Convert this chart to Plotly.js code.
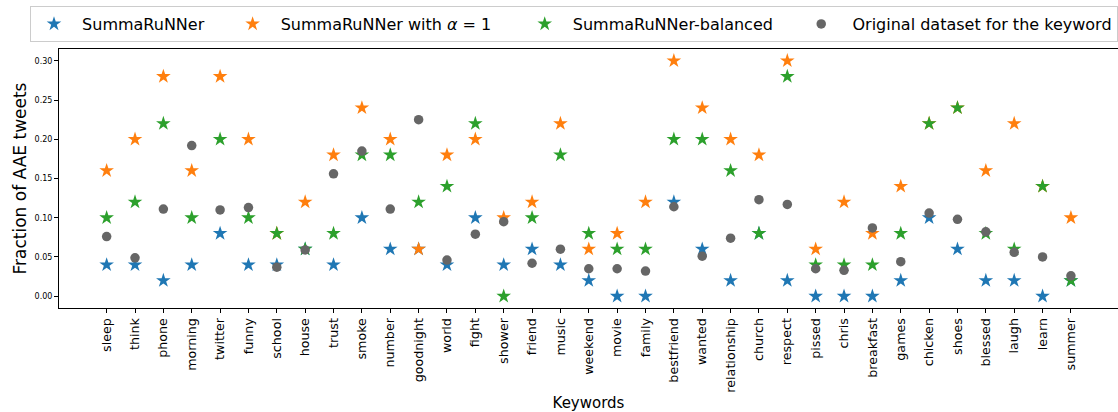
<!DOCTYPE html>
<html>
<head>
<meta charset="utf-8">
<script src="https://cdn.plot.ly/plotly-3.0.1.min.js"></script>
<style>html,body{margin:0;padding:0;background:#fff;}#chart{width:1118px;height:412px;}</style>
</head>
<body>
<div id="chart"></div>
<script>
const keywords = ["sleep","think","phone","morning","twitter","funny","school","house","trust","smoke","number","goodnight","world","fight","shower","friend","music","weekend","movie","family","bestfriend","wanted","relationship","church","respect","pissed","chris","breakfast","games","chicken","shoes","blessed","laugh","learn","summer"];
const summarunner = [0.04,0.04,0.02,0.04,0.08,0.04,0.04,0.06,0.04,0.10,0.06,0.06,0.04,0.10,0.04,0.06,0.04,0.02,0.00,0.00,0.12,0.06,0.02,0.08,0.02,0.00,0.00,0.00,0.02,0.10,0.06,0.02,0.02,0.00,0.02];
const summarunnerAlpha1 = [0.16,0.20,0.28,0.16,0.28,0.20,0.08,0.12,0.18,0.24,0.20,0.06,0.18,0.20,0.10,0.12,0.22,0.06,0.08,0.12,0.30,0.24,0.20,0.18,0.30,0.06,0.12,0.08,0.14,0.22,0.24,0.16,0.22,0.14,0.10];
const summarunnerBalanced = [0.10,0.12,0.22,0.10,0.20,0.10,0.08,0.06,0.08,0.18,0.18,0.12,0.14,0.22,0.00,0.10,0.18,0.08,0.06,0.06,0.20,0.20,0.16,0.08,0.28,0.04,0.04,0.04,0.08,0.22,0.24,0.08,0.06,0.14,0.02];
const originalDataset = [0.076,0.049,0.111,0.192,0.110,0.113,0.037,0.059,0.156,0.185,0.111,0.225,0.046,0.079,0.095,0.042,0.060,0.035,0.035,0.032,0.114,0.051,0.074,0.123,0.117,0.035,0.033,0.087,0.044,0.106,0.098,0.082,0.056,0.050,0.026];
const seriesNames = ["SummaRuNNer","SummaRuNNer with <i>α</i> = 1","SummaRuNNer-balanced","Original dataset for the keyword"];
const yTicks = [0,0.05,0.10,0.15,0.20,0.25,0.30];

const pre = '\u00A0';
const post = '\u00A0'.repeat(4);
const idx = keywords.map((k,i)=>i);
function starTrace(y,name,color){
  return {x: idx, y: y, name: name, type:'scatter', mode:'markers',
    marker:{symbol:'star', size:11, color:color, line:{width:0}}};
}
const data = [
  starTrace(summarunner, pre + seriesNames[0] + post, '#1f77b4'),
  starTrace(summarunnerAlpha1, pre + seriesNames[1] + post + '\u00A0', '#ff7f0e'),
  starTrace(summarunnerBalanced, pre + seriesNames[2] + post, '#2ca02c'),
  {x: idx, y: originalDataset, name: pre + '\u2009' + seriesNames[3], type:'scatter', mode:'markers',
    marker:{symbol:'circle', size:9.5, color:'#666666', line:{width:0}}}
];
const layout = {
  width:1118, height:412,
  margin:{l:59, r:0, t:49, b:104, pad:0},
  paper_bgcolor:'#fff', plot_bgcolor:'#fff',
  font:{family:'DejaVu Sans', color:'#000'},
  showlegend:true,
  legend:{orientation:'h', x:-0.0236, xanchor:'left', y:1.166, yanchor:'top',
    itemwidth:36,
    bordercolor:'#cccccc', borderwidth:1, bgcolor:'#fff',
    font:{size:16, family:'DejaVu Sans', color:'#000'}},
  xaxis:{range:[-1.68,35.66], tickmode:'array', tickvals:idx, ticktext:keywords,
    tickangle:-90, tickfont:{size:12.7, color:'#000'}, ticks:'outside', ticklen:4, tickcolor:'#000',
    showline:true, linecolor:'#000', linewidth:1, mirror:true, showgrid:false, zeroline:false,
    automargin:false,
    title:{text:'Keywords', font:{size:15, color:'#000'}, standoff:8}},
  yaxis:{range:[-0.015,0.315], tickmode:'array', tickvals:yTicks,
    ticktext:yTicks.map(v=>v.toFixed(2)), tickfont:{size:8, color:'#000'},
    ticks:'outside', ticklen:4, tickcolor:'#000',
    showline:true, linecolor:'#000', linewidth:1, mirror:true, showgrid:false, zeroline:false,
    automargin:false,
    title:{text:'Fraction of AAE tweets', font:{size:17, color:'#000'}, standoff:3}}
};
Plotly.newPlot('chart', data, layout, {displayModeBar:false, staticPlot:true});
</script>
</body>
</html>
